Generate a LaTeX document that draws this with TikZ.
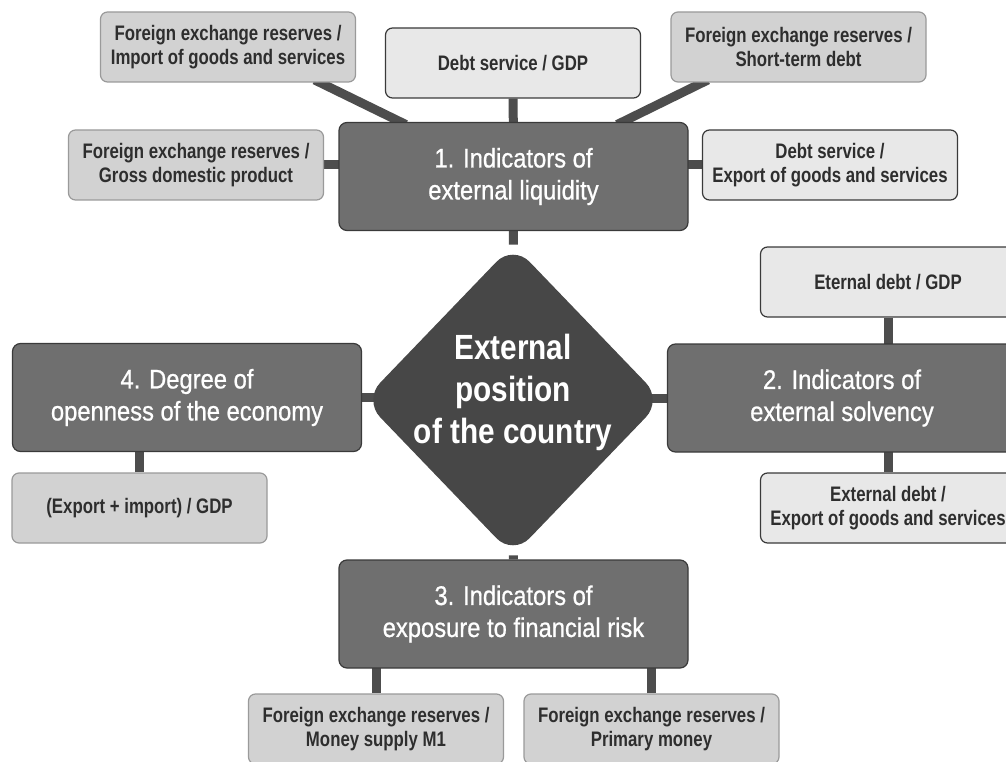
\documentclass[tikz,border=0pt]{standalone}
\usepackage{fontspec}
\newfontfamily\narrowsans{Liberation Sans}[FakeStretch=0.8]
\newfontfamily\headsans{Liberation Sans}[FakeStretch=0.88, RawFeature={embolden=0.8}]
\newfontfamily\hubsans{Liberation Sans}[FakeStretch=0.85]
\usetikzlibrary{shapes.geometric,backgrounds}

\definecolor{hubgray}{HTML}{474747}
\definecolor{groupgray}{HTML}{6F6F6F}
\definecolor{midgray}{HTML}{D2D2D2}
\definecolor{palegray}{HTML}{E8E8E8}
\definecolor{linkgray}{HTML}{4D4D4D}
\definecolor{edgegray}{HTML}{3A3A3A}
\definecolor{softedge}{HTML}{9A9A9A}
\definecolor{inkgray}{HTML}{2E2E2E}

\tikzstyle{hub}=[diamond, rounded corners=24pt, fill=hubgray, minimum width=299pt, minimum height=311pt, inner sep=0pt]
\tikzstyle{hubtext}=[text=white, align=center, yshift=8pt, font=\hubsans\bfseries\fontsize{35}{42}\selectfont]
\tikzstyle{group}=[rectangle, rounded corners=8pt, draw=edgegray, line width=1.2pt, fill=groupgray, text=white, minimum width=349pt, minimum height=108pt, align=center, font=\headsans\fontsize{27}{32}\selectfont]
\tikzstyle{ratio}=[rectangle, rounded corners=7pt, line width=1.2pt, minimum width=255pt, minimum height=70pt, align=center, text=inkgray, font=\narrowsans\bfseries\fontsize{21}{24}\selectfont]
\tikzstyle{pale}=[ratio, fill=palegray, draw=edgegray]
\tikzstyle{mid}=[ratio, fill=midgray, draw=softedge]
\tikzstyle{link}=[line width=9pt, draw=linkgray]

\begin{document}
\begin{tikzpicture}[x=1pt, y=-1pt]
  \useasboundingbox (0,0) rectangle (1006,762);

  % centre and the four groups
  \node[hub, label={[hubtext]center:{External\\position\\of the country}}] (pos) at (513,400) {};
  \node[group] (liq) at (513.5,176.5) {1. Indicators of\\external liquidity};
  \node[group] (solv) at (842,398) {2. Indicators of\\external solvency};
  \node[group] (risk) at (513.5,614) {3. Indicators of\\exposure to financial risk};
  \node[group] (open) at (187,397.5) {4. Degree of\\openness of the economy};

  % ratios
  \node[mid] (resimp) at (228,47) {Foreign exchange reserves /\\Import of goods and services};
  \node[pale] (dsgdp) at (513,63) {Debt service / GDP};
  \node[mid] (resstd) at (798.5,47) {Foreign exchange reserves /\\Short-term debt};
  \node[mid] (resgdp) at (196,165) {Foreign exchange reserves /\\Gross domestic product};
  \node[pale] (dsexp) at (830,165) {Debt service /\\Export of goods and services};
  \node[pale] (edgdp) at (888,282) {Eternal debt / GDP};
  \node[pale] (edexp) at (888,508) {External debt /\\Export of goods and services};
  \node[mid] (expimp) at (139.5,508) {(Export + import) / GDP};
  \node[mid] (resm1) at (376,729) {Foreign exchange reserves /\\Money supply M1};
  \node[mid] (respm) at (651.5,729) {Foreign exchange reserves /\\Primary money};

  \begin{pgfonlayer}{background}
    \draw[link, shorten <=-6pt, shorten >=-6pt] ([xshift=92pt]resimp.south) -- ([xshift=-113pt]liq.north);
    \draw[link] (dsgdp) -- (liq);
    \draw[link, shorten <=-6pt, shorten >=-6pt] ([xshift=-96pt]resstd.south) -- ([xshift=109pt]liq.north);
    \draw[link] (resgdp) -- (resgdp -| liq);
    \draw[link] (dsexp) -- (dsexp -| liq);
    \draw[link] (liq) -- (pos);
    \draw[link] (open) -- (open -| pos);
    \draw[link] (solv) -- (solv -| pos);
    \draw[link] (pos) -- (risk);
    \draw[link] (expimp) -- (expimp |- open);
    \draw[link] (edgdp) -- (edgdp |- solv);
    \draw[link] (edexp) -- (edexp |- solv);
    \draw[link] (resm1) -- (resm1 |- risk);
    \draw[link] (respm) -- (respm |- risk);
  \end{pgfonlayer}
\end{tikzpicture}
\end{document}
